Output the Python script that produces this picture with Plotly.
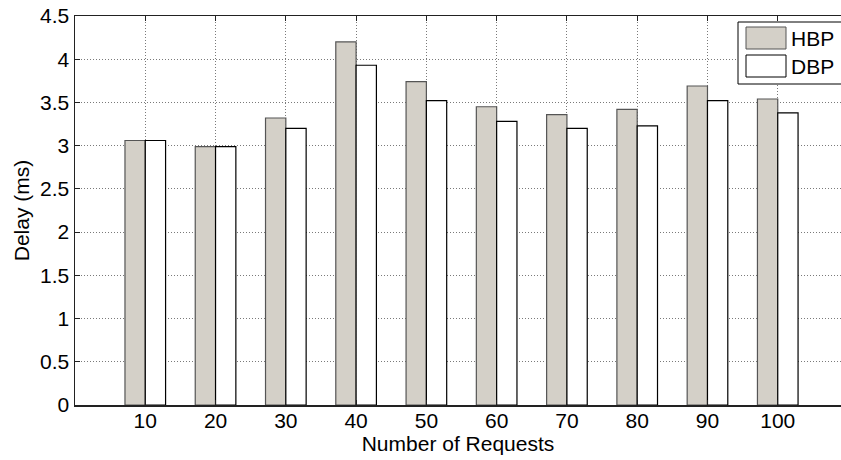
import plotly.graph_objects as go

requests = [10, 20, 30, 40, 50, 60, 70, 80, 90, 100]
hbp = [3.06, 2.99, 3.32, 4.20, 3.74, 3.45, 3.36, 3.42, 3.69, 3.54]
dbp = [3.06, 2.99, 3.20, 3.93, 3.52, 3.28, 3.20, 3.23, 3.52, 3.38]
y_ticks = [0, 0.5, 1, 1.5, 2, 2.5, 3, 3.5, 4, 4.5]
series_names = ["HBP", "DBP"]

FONT = "Liberation Sans, Arial, sans-serif"
FS = 21
BW = 2.89
W, H = 841, 460
L, T, B = 75, 16, 55

fig = go.Figure()
fig.add_trace(go.Bar(x=requests, y=hbp, name=series_names[0], width=BW, offset=-BW,
                     marker=dict(color="#d4d0c8", line=dict(color="#555555", width=1.2))))
fig.add_trace(go.Bar(x=requests, y=dbp, name=series_names[1], width=BW, offset=0,
                     marker=dict(color="#ffffff", line=dict(color="#000000", width=1.2))))

# manual legend (MATLAB style)
pw, ph = W - L, H - T - B
def px(x):
    return (x - L) / pw
def py(y):
    return (H - B - y) / ph

shapes = [
    dict(type="rect", xref="paper", yref="paper", x0=px(738), x1=px(860), y0=py(84), y1=py(22),
         line=dict(color="black", width=1), fillcolor="white", layer="above"),
    dict(type="rect", xref="paper", yref="paper", x0=px(746), x1=px(786), y0=py(49), y1=py(27),
         line=dict(color="#555555", width=1), fillcolor="#d4d0c8", layer="above"),
    dict(type="rect", xref="paper", yref="paper", x0=px(746), x1=px(786), y0=py(77), y1=py(55),
         line=dict(color="#000000", width=1), fillcolor="#ffffff", layer="above"),
]
annotations = [
    dict(xref="paper", yref="paper", x=px(789), y=py(38), text=series_names[0], showarrow=False,
         xanchor="left", yanchor="middle", font=dict(family=FONT, size=FS, color="black")),
    dict(xref="paper", yref="paper", x=px(789), y=py(66), text=series_names[1], showarrow=False,
         xanchor="left", yanchor="middle", font=dict(family=FONT, size=FS, color="black")),
]

fig.update_layout(
    width=W, height=H,
    margin=dict(l=L, r=0, t=T, b=B, pad=0, autoexpand=False),
    paper_bgcolor="white", plot_bgcolor="white",
    barmode="overlay",
    showlegend=False,
    hovermode=False,
    font=dict(family=FONT, size=FS, color="black"),
    shapes=shapes, annotations=annotations,
)
GRID = dict(showgrid=True, gridcolor="#7a7a7a", griddash="1px,2px", gridwidth=1, zeroline=False)
fig.update_xaxes(
    range=[0, 109], tickvals=requests, ticktext=[str(r) for r in requests],
    showline=True, linecolor="#222222", linewidth=1.5, mirror="ticks",
    ticks="inside", ticklen=5, tickcolor="#222222",
    ticklabelstandoff=-4,
    title=dict(text="Number of Requests", font=dict(family=FONT, size=FS), standoff=2),
    tickfont=dict(family=FONT, size=FS), automargin=False,
    **GRID,
)
fig.update_yaxes(
    range=[0, 4.5], tickvals=y_ticks,
    showline=True, linecolor="#222222", linewidth=1.5,
    ticks="inside", ticklen=5, tickcolor="#222222",
    title=dict(text="Delay (ms)", font=dict(family=FONT, size=FS), standoff=4),
    tickfont=dict(family=FONT, size=FS), automargin=False,
    **GRID,
)

fig.write_html(
    "out.html",
    config={"displayModeBar": False, "staticPlot": True},
    post_script=(
        "document.documentElement.style.overflow='hidden';"
        "document.body.style.margin='0';document.body.style.overflow='hidden';"
    ),
)
